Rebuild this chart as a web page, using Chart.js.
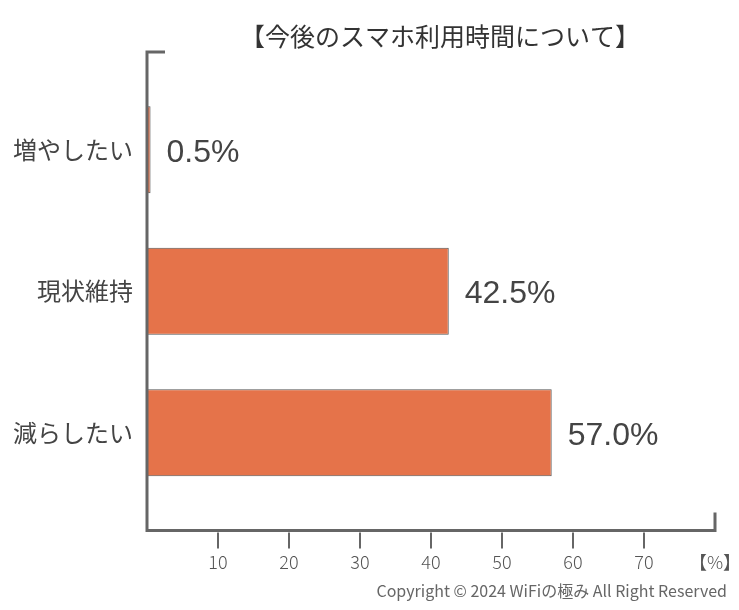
<!DOCTYPE html>
<html>
<head>
<meta charset="utf-8">
<script src="https://cdn.jsdelivr.net/npm/chart.js@4"></script>
<style>
  html, body { margin: 0; padding: 0; background: #fff; }
  #wrap { width: 739px; height: 610px; }
</style>
</head>
<body>
<div id="wrap"><canvas id="grafico" width="739" height="610"></canvas></div>
<script>
const categorias = ["増やしたい", "現状維持", "減らしたい"];
const valores = [0.5, 42.5, 57.0];
const ticksX = [10, 20, 30, 40, 50, 60, 70];
const titulo = "【今後のスマホ利用時間について】";
const copyright = "Copyright © 2024 WiFiの極み All Right Reserved";

const gris = "#666666";
const jp = "'Noto Sans CJK JP', 'Noto Sans', sans-serif";

// Ejes, título, etiquetas y copyright
const extras = {
  id: "extras",
  afterDraw(chart) {
    const c = chart.ctx;
    const area = chart.chartArea;
    const x = chart.scales.x;
    const x0 = x.getPixelForValue(0);
    const xMax = x.getPixelForValue(80);
    const yTop = area.top - 27;
    const yAxis = area.bottom + 27;

    c.save();
    c.strokeStyle = gris;
    c.lineWidth = 3;
    c.lineCap = "butt";
    c.beginPath();
    c.moveTo(x0 + 18, yTop);
    c.lineTo(x0, yTop);
    c.lineTo(x0, yAxis);
    c.lineTo(xMax, yAxis);
    c.lineTo(xMax, yAxis - 18);
    c.stroke();

    c.lineWidth = 2;
    ticksX.forEach(v => {
      const px = x.getPixelForValue(v);
      c.beginPath();
      c.moveTo(px, yAxis + 2);
      c.lineTo(px, yAxis + 18);
      c.stroke();
    });

    // valores de las barras
    const meta = chart.getDatasetMeta(0);
    c.fillStyle = "#444444";
    c.font = "32px 'Liberation Sans', Arial, sans-serif";
    c.textAlign = "left";
    c.textBaseline = "middle";
    meta.data.forEach((bar, i) => {
      c.fillText(valores[i].toFixed(1) + "%", bar.x + 16, bar.y + 3);
    });

    // título
    c.fillStyle = "#333333";
    c.font = "400 25px " + jp;
    c.textAlign = "center";
    c.fillText(titulo, 440, 36);

    // copyright
    c.fillStyle = "#666666";
    c.font = "16px " + jp;
    c.textAlign = "right";
    c.fillText(copyright, 727, 591, 352);
    c.restore();
  }
};

const ctx = document.getElementById("grafico").getContext("2d");
const chart = new Chart(ctx, {
  type: "bar",
  data: {
    labels: categorias,
    datasets: [{
      data: valores,
      backgroundColor: "#E5734A",
      borderColor: "#555555",
      borderWidth: 1,
      borderSkipped: "left",
      barPercentage: 0.615,
      categoryPercentage: 1
    }]
  },
  options: {
    indexAxis: "y",
    responsive: false,
    animation: false,
    devicePixelRatio: 1,
    layout: { padding: { top: 79, right: 24, bottom: 0, left: 0 } },
    plugins: {
      legend: { display: false },
      title: { display: false },
      tooltip: { enabled: false }
    },
    scales: {
      x: {
        min: 0,
        max: 80,
        afterFit(s) {
          s.height = 106.5;
          s.paddingLeft = 0;
          s.paddingRight = 0;
        },
        afterBuildTicks(s) {
          s.ticks = [0, ...ticksX, 80].map(v => ({ value: v }));
        },
        grid: { display: false, drawTicks: false },
        border: { display: false },
        ticks: {
          padding: 48,
          maxRotation: 0,
          autoSkip: false,
          color: "#555555",
          font: { family: jp, size: 18, weight: 300 },
          callback: v => v === 0 ? "" : (v === 80 ? "【%】" : String(v))
        }
      },
      y: {
        afterFit(s) {
          s.width = 147;
          s.paddingTop = 0;
          s.paddingBottom = 0;
        },
        grid: { display: false, drawTicks: false },
        border: { display: false },
        ticks: {
          padding: 14,
          color: "#444444",
          font: { family: jp, size: 24, weight: 400 }
        }
      }
    }
  },
  plugins: [extras]
});
</script>
</body>
</html>
